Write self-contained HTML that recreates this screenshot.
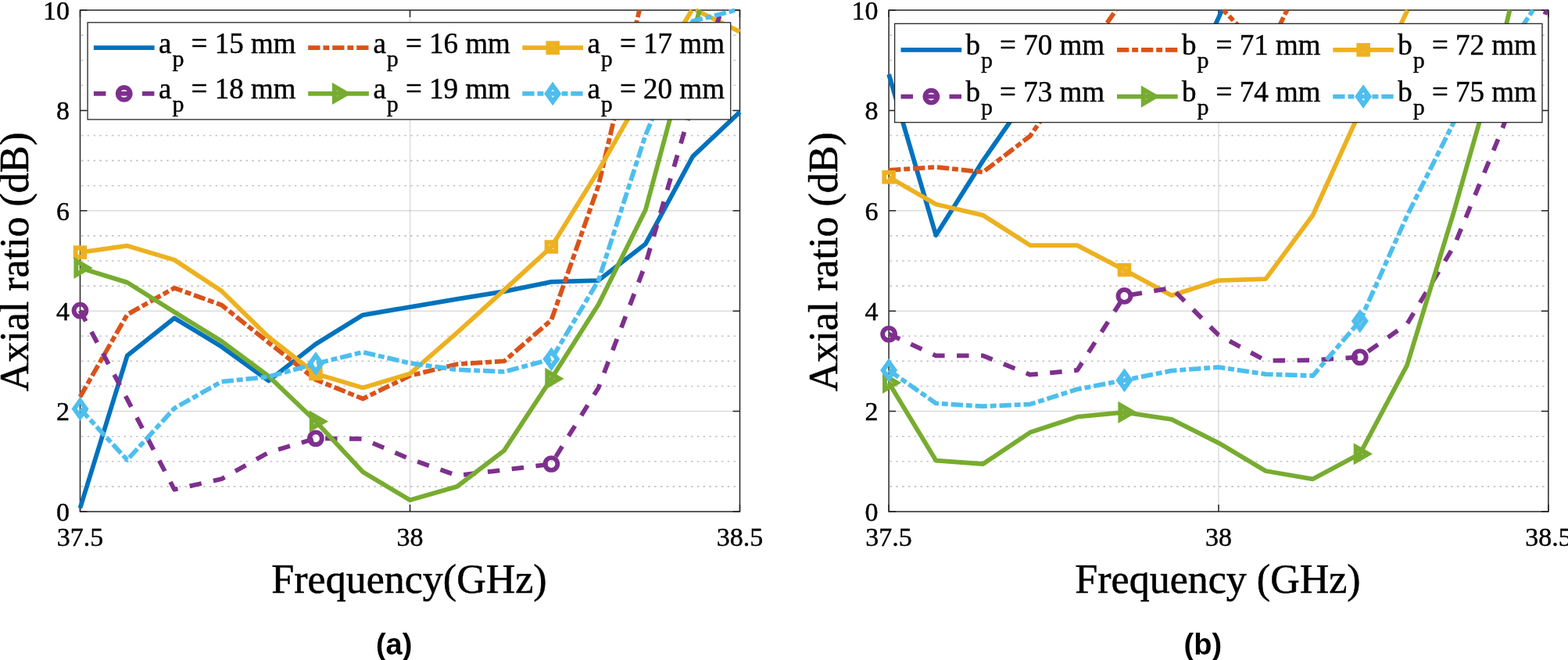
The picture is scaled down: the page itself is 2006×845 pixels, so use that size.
<!DOCTYPE html>
<html><head><meta charset="utf-8"><title>Axial ratio vs frequency</title>
<style>
html,body{margin:0;padding:0;background:#fff;}
body{width:2006px;height:845px;overflow:hidden;}
svg{display:block;}
.tk{font-family:"Liberation Serif","Times New Roman",serif;font-size:34px;fill:#000;stroke:#000;stroke-width:0.45px;}
.lab{font-family:"Liberation Serif","Times New Roman",serif;font-size:52px;fill:#000;stroke:#000;stroke-width:0.55px;}
.lg{font-family:"Liberation Serif","Times New Roman",serif;font-size:37px;fill:#000;stroke:#000;stroke-width:0.45px;white-space:pre;}
.sb{font-family:"Liberation Serif","Times New Roman",serif;font-size:30px;fill:#000;stroke:#000;stroke-width:0.4px;}
.let{font-family:"Liberation Sans",Arial,sans-serif;font-size:38px;font-weight:bold;fill:#000;}
</style></head>
<body><svg width="2006" height="845" viewBox="0 0 2006 845">
<rect width="2006" height="845" fill="#fff"/>
<line x1="102.5" y1="622.9" x2="946.5" y2="622.9" stroke="#c3c3c3" stroke-width="1.6" stroke-dasharray="2.6 5.2" stroke-dashoffset="6.4"/>
<line x1="102.5" y1="590.8" x2="946.5" y2="590.8" stroke="#c3c3c3" stroke-width="1.6" stroke-dasharray="2.6 5.2" stroke-dashoffset="6.4"/>
<line x1="102.5" y1="558.7" x2="946.5" y2="558.7" stroke="#c3c3c3" stroke-width="1.6" stroke-dasharray="2.6 5.2" stroke-dashoffset="6.4"/>
<line x1="102.5" y1="494.5" x2="946.5" y2="494.5" stroke="#c3c3c3" stroke-width="1.6" stroke-dasharray="2.6 5.2" stroke-dashoffset="6.4"/>
<line x1="102.5" y1="462.4" x2="946.5" y2="462.4" stroke="#c3c3c3" stroke-width="1.6" stroke-dasharray="2.6 5.2" stroke-dashoffset="6.4"/>
<line x1="102.5" y1="430.3" x2="946.5" y2="430.3" stroke="#c3c3c3" stroke-width="1.6" stroke-dasharray="2.6 5.2" stroke-dashoffset="6.4"/>
<line x1="102.5" y1="366.1" x2="946.5" y2="366.1" stroke="#c3c3c3" stroke-width="1.6" stroke-dasharray="2.6 5.2" stroke-dashoffset="6.4"/>
<line x1="102.5" y1="334" x2="946.5" y2="334" stroke="#c3c3c3" stroke-width="1.6" stroke-dasharray="2.6 5.2" stroke-dashoffset="6.4"/>
<line x1="102.5" y1="301.9" x2="946.5" y2="301.9" stroke="#c3c3c3" stroke-width="1.6" stroke-dasharray="2.6 5.2" stroke-dashoffset="6.4"/>
<line x1="102.5" y1="237.7" x2="946.5" y2="237.7" stroke="#c3c3c3" stroke-width="1.6" stroke-dasharray="2.6 5.2" stroke-dashoffset="6.4"/>
<line x1="102.5" y1="205.6" x2="946.5" y2="205.6" stroke="#c3c3c3" stroke-width="1.6" stroke-dasharray="2.6 5.2" stroke-dashoffset="6.4"/>
<line x1="102.5" y1="173.5" x2="946.5" y2="173.5" stroke="#c3c3c3" stroke-width="1.6" stroke-dasharray="2.6 5.2" stroke-dashoffset="6.4"/>
<line x1="102.5" y1="109.3" x2="946.5" y2="109.3" stroke="#c3c3c3" stroke-width="1.6" stroke-dasharray="2.6 5.2" stroke-dashoffset="6.4"/>
<line x1="102.5" y1="77.2" x2="946.5" y2="77.2" stroke="#c3c3c3" stroke-width="1.6" stroke-dasharray="2.6 5.2" stroke-dashoffset="6.4"/>
<line x1="102.5" y1="45.1" x2="946.5" y2="45.1" stroke="#c3c3c3" stroke-width="1.6" stroke-dasharray="2.6 5.2" stroke-dashoffset="6.4"/>
<line x1="102.5" y1="526.6" x2="946.5" y2="526.6" stroke="#262626" stroke-opacity="0.16" stroke-width="1.5"/>
<line x1="102.5" y1="398.2" x2="946.5" y2="398.2" stroke="#262626" stroke-opacity="0.16" stroke-width="1.5"/>
<line x1="102.5" y1="269.8" x2="946.5" y2="269.8" stroke="#262626" stroke-opacity="0.16" stroke-width="1.5"/>
<line x1="102.5" y1="141.4" x2="946.5" y2="141.4" stroke="#262626" stroke-opacity="0.16" stroke-width="1.5"/>
<line x1="524.5" y1="13" x2="524.5" y2="655" stroke="#262626" stroke-opacity="0.16" stroke-width="1.5"/>
<rect x="102.5" y="13" width="844" height="642" fill="none" stroke="#262626" stroke-width="1.5"/>
<path d="M102.5 655H111.5M946.5 655H937.5M102.5 526.6H111.5M946.5 526.6H937.5M102.5 398.2H111.5M946.5 398.2H937.5M102.5 269.8H111.5M946.5 269.8H937.5M102.5 141.4H111.5M946.5 141.4H937.5M102.5 13H111.5M946.5 13H937.5M102.5 655V646M102.5 13V22M524.5 655V646M524.5 13V22M946.5 655V646M946.5 13V22" stroke="#262626" stroke-width="1.5" fill="none"/>
<text x="89" y="666.8" text-anchor="end" class="tk">0</text>
<text x="89" y="538.4" text-anchor="end" class="tk">2</text>
<text x="89" y="410" text-anchor="end" class="tk">4</text>
<text x="89" y="281.6" text-anchor="end" class="tk">6</text>
<text x="89" y="153.2" text-anchor="end" class="tk">8</text>
<text x="89" y="24.8" text-anchor="end" class="tk">10</text>
<text x="102.5" y="698.8" text-anchor="middle" class="tk">37.5</text>
<text x="524.5" y="698.8" text-anchor="middle" class="tk">38</text>
<text x="946.5" y="698.8" text-anchor="middle" class="tk">38.5</text>
<text transform="translate(35.8 335.3) rotate(-90)" text-anchor="middle" class="lab">Axial ratio (dB)</text>
<text x="523.5" y="758.7" text-anchor="middle" class="lab">Frequency(GHz)</text>
<text x="504.2" y="837.6" text-anchor="middle" class="let">(a)</text>
<path d="M102.5 650.51 L162.79 455.34 L223.07 407.19 L283.36 443.78 L343.64 487.44 L403.93 440.57 L464.21 403.34 L524.5 393.06 L584.79 382.79 L645.07 373.16 L705.36 360.96 L765.64 359.04 L825.93 312.17 L886.21 200.46 L946.5 143.33" fill="none" stroke="#0072BD" stroke-width="5.8" stroke-linejoin="round" stroke-linecap="butt"/>
<path d="M102.5 507.98 L162.79 402.69 L223.07 368.67 L283.36 390.5 L343.64 438.65 L403.93 486.15 L464.21 510.55 L524.5 481.02 L584.79 466.25 L645.07 462.4 L705.36 409.76 L765.64 237.7 L818 13" fill="none" stroke="#D95319" stroke-width="5.8" stroke-linejoin="round" stroke-linecap="butt" stroke-dasharray="15.3 3.9 7.9 3.9" stroke-dashoffset="0"/>
<path d="M102.5 323.09 L162.79 314.74 L223.07 332.72 L283.36 372.52 L343.64 431.58 L403.93 478.45 L464.21 496.43 L524.5 478.45 L584.79 425.81 L645.07 371.24 L705.36 316.02 L765.64 218.44 L825.93 112.51 L885.07 13" fill="none" stroke="#EDB120" stroke-width="5.8" stroke-linejoin="round" stroke-linecap="butt"/>
<path d="M890.15 13 L946.5 40.61" fill="none" stroke="#EDB120" stroke-width="5.8" stroke-linejoin="round" stroke-linecap="butt"/>
<rect x="96.7" y="317.29" width="11.6" height="11.6" fill="none" stroke="#EDB120" stroke-width="5.9" stroke-linejoin="miter" stroke-miterlimit="10"/>
<rect x="398.13" y="472.65" width="11.6" height="11.6" fill="none" stroke="#EDB120" stroke-width="5.9" stroke-linejoin="miter" stroke-miterlimit="10"/>
<rect x="699.56" y="310.22" width="11.6" height="11.6" fill="none" stroke="#EDB120" stroke-width="5.9" stroke-linejoin="miter" stroke-miterlimit="10"/>
<path d="M102.5 397.56 L162.79 511.19 L223.07 626.75 L283.36 613.27 L343.64 579.24 L403.93 561.27 L464.21 561.91 L524.5 587.59 L584.79 608.78 L645.07 601.71 L705.36 594.01 L765.64 496.43 L825.93 337.85 L886.21 131.77 L922.78 13" fill="none" stroke="#7E2F8E" stroke-width="5.8" stroke-linejoin="round" stroke-linecap="butt" stroke-dasharray="15.5 15.5" stroke-dashoffset="0"/>
<circle cx="102.5" cy="397.56" r="7.9" fill="none" stroke="#7E2F8E" stroke-width="5.9" stroke-linejoin="miter" stroke-miterlimit="10"/>
<circle cx="403.93" cy="561.27" r="7.9" fill="none" stroke="#7E2F8E" stroke-width="5.9" stroke-linejoin="miter" stroke-miterlimit="10"/>
<circle cx="705.36" cy="594.01" r="7.9" fill="none" stroke="#7E2F8E" stroke-width="5.9" stroke-linejoin="miter" stroke-miterlimit="10"/>
<path d="M102.5 342.99 L162.79 361.61 L223.07 399.48 L283.36 436.72 L343.64 481.66 L403.93 539.44 L464.21 604.28 L524.5 640.23 L584.79 622.9 L645.07 576.68 L705.36 484.87 L765.64 389.85 L825.93 268.52 L886.21 43.82 L895.04 13" fill="none" stroke="#77AC30" stroke-width="5.8" stroke-linejoin="round" stroke-linecap="butt"/>
<path d="M112.8 342.99 L97.35 334.07 L97.35 351.91 Z" fill="none" stroke="#77AC30" stroke-width="5.9" stroke-linejoin="miter" stroke-miterlimit="10"/>
<path d="M414.23 539.44 L398.78 530.52 L398.78 548.36 Z" fill="none" stroke="#77AC30" stroke-width="5.9" stroke-linejoin="miter" stroke-miterlimit="10"/>
<path d="M715.66 484.87 L700.21 475.95 L700.21 493.79 Z" fill="none" stroke="#77AC30" stroke-width="5.9" stroke-linejoin="miter" stroke-miterlimit="10"/>
<path d="M102.5 523.39 L162.79 588.87 L223.07 522.75 L283.36 488.72 L343.64 482.3 L403.93 465.61 L464.21 450.84 L524.5 464.97 L584.79 473.31 L645.07 475.88 L705.36 459.83 L765.64 359.04 L825.93 172.86 L886.21 27.12 L941.48 13" fill="none" stroke="#4DBEEE" stroke-width="5.8" stroke-linejoin="round" stroke-linecap="butt" stroke-dasharray="15.3 3.9 7.9 3.9" stroke-dashoffset="0"/>
<path d="M102.5 513.09 L109.9 523.39 L102.5 533.69 L95.1 523.39 Z" fill="none" stroke="#4DBEEE" stroke-width="5.9" stroke-linejoin="miter" stroke-miterlimit="10"/>
<path d="M403.93 455.31 L411.33 465.61 L403.93 475.91 L396.53 465.61 Z" fill="none" stroke="#4DBEEE" stroke-width="5.9" stroke-linejoin="miter" stroke-miterlimit="10"/>
<path d="M705.36 449.53 L712.76 459.83 L705.36 470.13 L697.96 459.83 Z" fill="none" stroke="#4DBEEE" stroke-width="5.9" stroke-linejoin="miter" stroke-miterlimit="10"/>
<rect x="112.1" y="28.8" width="822.6" height="124.2" fill="#fff" stroke="#262626" stroke-width="1.3"/>
<path d="M119.9 61.2 L197.6 61.2" fill="none" stroke="#0072BD" stroke-width="5.8" stroke-linejoin="round" stroke-linecap="butt"/>
<text x="203.1" y="68.1" class="lg">a</text>
<text x="220.4" y="85.3" class="sb">p</text>
<text x="244.6" y="68.1" class="lg">= 15 mm</text>
<path d="M394.2 61.2 L471.9 61.2" fill="none" stroke="#D95319" stroke-width="5.8" stroke-linejoin="round" stroke-linecap="butt" stroke-dasharray="15.3 3.9 7.9 3.9" stroke-dashoffset="0"/>
<text x="477.4" y="68.1" class="lg">a</text>
<text x="494.7" y="85.3" class="sb">p</text>
<text x="518.9" y="68.1" class="lg">= 16 mm</text>
<path d="M668.3 61.2 L746 61.2" fill="none" stroke="#EDB120" stroke-width="5.8" stroke-linejoin="round" stroke-linecap="butt"/>
<rect x="701.35" y="55.4" width="11.6" height="11.6" fill="none" stroke="#EDB120" stroke-width="5.9" stroke-linejoin="miter" stroke-miterlimit="10"/>
<text x="751.5" y="68.1" class="lg">a</text>
<text x="768.8" y="85.3" class="sb">p</text>
<text x="793" y="68.1" class="lg">= 17 mm</text>
<path d="M119.9 119.9 L197.6 119.9" fill="none" stroke="#7E2F8E" stroke-width="5.8" stroke-linejoin="round" stroke-linecap="butt" stroke-dasharray="15.5 15.5" stroke-dashoffset="0"/>
<circle cx="158.75" cy="119.9" r="7.9" fill="none" stroke="#7E2F8E" stroke-width="5.9" stroke-linejoin="miter" stroke-miterlimit="10"/>
<text x="203.1" y="126.1" class="lg">a</text>
<text x="220.4" y="143.3" class="sb">p</text>
<text x="244.6" y="126.1" class="lg">= 18 mm</text>
<path d="M394.2 119.9 L471.9 119.9" fill="none" stroke="#77AC30" stroke-width="5.8" stroke-linejoin="round" stroke-linecap="butt"/>
<path d="M443.35 119.9 L427.9 110.98 L427.9 128.82 Z" fill="none" stroke="#77AC30" stroke-width="5.9" stroke-linejoin="miter" stroke-miterlimit="10"/>
<text x="477.4" y="126.1" class="lg">a</text>
<text x="494.7" y="143.3" class="sb">p</text>
<text x="518.9" y="126.1" class="lg">= 19 mm</text>
<path d="M668.3 119.9 L746 119.9" fill="none" stroke="#4DBEEE" stroke-width="5.8" stroke-linejoin="round" stroke-linecap="butt" stroke-dasharray="15.3 3.9 7.9 3.9" stroke-dashoffset="0"/>
<path d="M707.15 109.6 L714.55 119.9 L707.15 130.2 L699.75 119.9 Z" fill="none" stroke="#4DBEEE" stroke-width="5.9" stroke-linejoin="miter" stroke-miterlimit="10"/>
<text x="751.5" y="126.1" class="lg">a</text>
<text x="768.8" y="143.3" class="sb">p</text>
<text x="793" y="126.1" class="lg">= 20 mm</text>
<line x1="1137.1" y1="622.9" x2="1980.9" y2="622.9" stroke="#c3c3c3" stroke-width="1.6" stroke-dasharray="2.6 5.2" stroke-dashoffset="6.4"/>
<line x1="1137.1" y1="590.8" x2="1980.9" y2="590.8" stroke="#c3c3c3" stroke-width="1.6" stroke-dasharray="2.6 5.2" stroke-dashoffset="6.4"/>
<line x1="1137.1" y1="558.7" x2="1980.9" y2="558.7" stroke="#c3c3c3" stroke-width="1.6" stroke-dasharray="2.6 5.2" stroke-dashoffset="6.4"/>
<line x1="1137.1" y1="494.5" x2="1980.9" y2="494.5" stroke="#c3c3c3" stroke-width="1.6" stroke-dasharray="2.6 5.2" stroke-dashoffset="6.4"/>
<line x1="1137.1" y1="462.4" x2="1980.9" y2="462.4" stroke="#c3c3c3" stroke-width="1.6" stroke-dasharray="2.6 5.2" stroke-dashoffset="6.4"/>
<line x1="1137.1" y1="430.3" x2="1980.9" y2="430.3" stroke="#c3c3c3" stroke-width="1.6" stroke-dasharray="2.6 5.2" stroke-dashoffset="6.4"/>
<line x1="1137.1" y1="366.1" x2="1980.9" y2="366.1" stroke="#c3c3c3" stroke-width="1.6" stroke-dasharray="2.6 5.2" stroke-dashoffset="6.4"/>
<line x1="1137.1" y1="334" x2="1980.9" y2="334" stroke="#c3c3c3" stroke-width="1.6" stroke-dasharray="2.6 5.2" stroke-dashoffset="6.4"/>
<line x1="1137.1" y1="301.9" x2="1980.9" y2="301.9" stroke="#c3c3c3" stroke-width="1.6" stroke-dasharray="2.6 5.2" stroke-dashoffset="6.4"/>
<line x1="1137.1" y1="237.7" x2="1980.9" y2="237.7" stroke="#c3c3c3" stroke-width="1.6" stroke-dasharray="2.6 5.2" stroke-dashoffset="6.4"/>
<line x1="1137.1" y1="205.6" x2="1980.9" y2="205.6" stroke="#c3c3c3" stroke-width="1.6" stroke-dasharray="2.6 5.2" stroke-dashoffset="6.4"/>
<line x1="1137.1" y1="173.5" x2="1980.9" y2="173.5" stroke="#c3c3c3" stroke-width="1.6" stroke-dasharray="2.6 5.2" stroke-dashoffset="6.4"/>
<line x1="1137.1" y1="109.3" x2="1980.9" y2="109.3" stroke="#c3c3c3" stroke-width="1.6" stroke-dasharray="2.6 5.2" stroke-dashoffset="6.4"/>
<line x1="1137.1" y1="77.2" x2="1980.9" y2="77.2" stroke="#c3c3c3" stroke-width="1.6" stroke-dasharray="2.6 5.2" stroke-dashoffset="6.4"/>
<line x1="1137.1" y1="45.1" x2="1980.9" y2="45.1" stroke="#c3c3c3" stroke-width="1.6" stroke-dasharray="2.6 5.2" stroke-dashoffset="6.4"/>
<line x1="1137.1" y1="526.6" x2="1980.9" y2="526.6" stroke="#262626" stroke-opacity="0.16" stroke-width="1.5"/>
<line x1="1137.1" y1="398.2" x2="1980.9" y2="398.2" stroke="#262626" stroke-opacity="0.16" stroke-width="1.5"/>
<line x1="1137.1" y1="269.8" x2="1980.9" y2="269.8" stroke="#262626" stroke-opacity="0.16" stroke-width="1.5"/>
<line x1="1137.1" y1="141.4" x2="1980.9" y2="141.4" stroke="#262626" stroke-opacity="0.16" stroke-width="1.5"/>
<line x1="1559" y1="13" x2="1559" y2="655" stroke="#262626" stroke-opacity="0.16" stroke-width="1.5"/>
<rect x="1137.1" y="13" width="843.8" height="642" fill="none" stroke="#262626" stroke-width="1.5"/>
<path d="M1137.1 655H1146.1M1980.9 655H1971.9M1137.1 526.6H1146.1M1980.9 526.6H1971.9M1137.1 398.2H1146.1M1980.9 398.2H1971.9M1137.1 269.8H1146.1M1980.9 269.8H1971.9M1137.1 141.4H1146.1M1980.9 141.4H1971.9M1137.1 13H1146.1M1980.9 13H1971.9M1137.1 655V646M1137.1 13V22M1559 655V646M1559 13V22M1980.9 655V646M1980.9 13V22" stroke="#262626" stroke-width="1.5" fill="none"/>
<text x="1123.6" y="666.8" text-anchor="end" class="tk">0</text>
<text x="1123.6" y="538.4" text-anchor="end" class="tk">2</text>
<text x="1123.6" y="410" text-anchor="end" class="tk">4</text>
<text x="1123.6" y="281.6" text-anchor="end" class="tk">6</text>
<text x="1123.6" y="153.2" text-anchor="end" class="tk">8</text>
<text x="1123.6" y="24.8" text-anchor="end" class="tk">10</text>
<text x="1137.1" y="698.8" text-anchor="middle" class="tk">37.5</text>
<text x="1559" y="698.8" text-anchor="middle" class="tk">38</text>
<text x="1980.9" y="698.8" text-anchor="middle" class="tk">38.5</text>
<text transform="translate(1070.8 335.3) rotate(-90)" text-anchor="middle" class="lab">Axial ratio (dB)</text>
<text x="1558" y="759.2" text-anchor="middle" class="lab">Frequency (GHz)</text>
<text x="1538.8" y="837.6" text-anchor="middle" class="let">(b)</text>
<path d="M1137.1 95.18 L1197.37 301.26 L1257.64 205.6 L1317.91 118.93 L1378.19 128.56 L1438.46 141.4 L1498.73 151.03 L1559 22.63 L1563.2 13" fill="none" stroke="#0072BD" stroke-width="5.8" stroke-linejoin="round" stroke-linecap="butt"/>
<path d="M1137.1 217.8 L1197.37 213.95 L1257.64 220.37 L1317.91 174.14 L1378.19 85.55 L1427.54 13" fill="none" stroke="#D95319" stroke-width="5.8" stroke-linejoin="round" stroke-linecap="butt" stroke-dasharray="15.3 3.9 7.9 3.9" stroke-dashoffset="0"/>
<path d="M1565.15 13 L1619.27 69.5 L1646.47 13" fill="none" stroke="#D95319" stroke-width="5.8" stroke-linejoin="round" stroke-linecap="butt" stroke-dasharray="15.3 3.9 7.9 3.9" stroke-dashoffset="628.74"/>
<path d="M1137.1 226.79 L1197.37 261.45 L1257.64 275.58 L1317.91 314.1 L1378.19 314.1 L1438.46 345.56 L1498.73 378.3 L1559 359.04 L1619.27 357.11 L1679.54 275.58 L1739.81 142.68 L1800.09 14.28 L1800.68 13" fill="none" stroke="#EDB120" stroke-width="5.8" stroke-linejoin="round" stroke-linecap="butt"/>
<rect x="1131.3" y="220.99" width="11.6" height="11.6" fill="none" stroke="#EDB120" stroke-width="5.9" stroke-linejoin="miter" stroke-miterlimit="10"/>
<rect x="1432.66" y="339.76" width="11.6" height="11.6" fill="none" stroke="#EDB120" stroke-width="5.9" stroke-linejoin="miter" stroke-miterlimit="10"/>
<rect x="1734.01" y="136.88" width="11.6" height="11.6" fill="none" stroke="#EDB120" stroke-width="5.9" stroke-linejoin="miter" stroke-miterlimit="10"/>
<path d="M1137.1 427.73 L1197.37 455.34 L1257.64 455.34 L1317.91 479.73 L1378.19 473.96 L1438.46 378.94 L1498.73 368.67 L1559 429.02 L1619.27 461.76 L1679.54 461.12 L1739.81 457.26 L1800.09 414.89 L1860.36 314.74 L1920.63 168.36 L1978.51 13" fill="none" stroke="#7E2F8E" stroke-width="5.8" stroke-linejoin="round" stroke-linecap="butt" stroke-dasharray="15.5 15.5" stroke-dashoffset="0"/>
<circle cx="1137.1" cy="427.73" r="7.9" fill="none" stroke="#7E2F8E" stroke-width="5.9" stroke-linejoin="miter" stroke-miterlimit="10"/>
<circle cx="1438.46" cy="378.94" r="7.9" fill="none" stroke="#7E2F8E" stroke-width="5.9" stroke-linejoin="miter" stroke-miterlimit="10"/>
<circle cx="1739.81" cy="457.26" r="7.9" fill="none" stroke="#7E2F8E" stroke-width="5.9" stroke-linejoin="miter" stroke-miterlimit="10"/>
<path d="M1137.1 490.01 L1197.37 589.52 L1257.64 594.01 L1317.91 553.56 L1378.19 533.66 L1438.46 527.88 L1498.73 536.87 L1559 567.05 L1619.27 603 L1679.54 613.27 L1739.81 581.17 L1800.09 467.54 L1860.36 269.8 L1920.63 57.94 L1931.45 13" fill="none" stroke="#77AC30" stroke-width="5.8" stroke-linejoin="round" stroke-linecap="butt"/>
<path d="M1147.4 490.01 L1131.95 481.09 L1131.95 498.93 Z" fill="none" stroke="#77AC30" stroke-width="5.9" stroke-linejoin="miter" stroke-miterlimit="10"/>
<path d="M1448.76 527.88 L1433.31 518.96 L1433.31 536.8 Z" fill="none" stroke="#77AC30" stroke-width="5.9" stroke-linejoin="miter" stroke-miterlimit="10"/>
<path d="M1750.11 581.17 L1734.66 572.25 L1734.66 590.09 Z" fill="none" stroke="#77AC30" stroke-width="5.9" stroke-linejoin="miter" stroke-miterlimit="10"/>
<path d="M1137.1 473.96 L1197.37 516.33 L1257.64 520.18 L1317.91 517.61 L1378.19 498.35 L1438.46 486.8 L1498.73 474.6 L1559 470.1 L1619.27 479.09 L1679.54 481.02 L1739.81 411.04 L1800.09 276.22 L1860.36 155.52 L1920.63 73.99 L1961.24 13" fill="none" stroke="#4DBEEE" stroke-width="5.8" stroke-linejoin="round" stroke-linecap="butt" stroke-dasharray="15.3 3.9 7.9 3.9" stroke-dashoffset="0"/>
<path d="M1137.1 463.66 L1144.5 473.96 L1137.1 484.26 L1129.7 473.96 Z" fill="none" stroke="#4DBEEE" stroke-width="5.9" stroke-linejoin="miter" stroke-miterlimit="10"/>
<path d="M1438.46 476.5 L1445.86 486.8 L1438.46 497.1 L1431.06 486.8 Z" fill="none" stroke="#4DBEEE" stroke-width="5.9" stroke-linejoin="miter" stroke-miterlimit="10"/>
<path d="M1739.81 400.74 L1747.21 411.04 L1739.81 421.34 L1732.41 411.04 Z" fill="none" stroke="#4DBEEE" stroke-width="5.9" stroke-linejoin="miter" stroke-miterlimit="10"/>
<rect x="1144.6" y="30.3" width="828.4" height="126.4" fill="#fff" stroke="#262626" stroke-width="1.3"/>
<path d="M1152.5 63.9 L1230.2 63.9" fill="none" stroke="#0072BD" stroke-width="5.8" stroke-linejoin="round" stroke-linecap="butt"/>
<text x="1235.5" y="70" class="lg">b</text>
<text x="1254.9" y="87.2" class="sb">p</text>
<text x="1279.1" y="70" class="lg">= 70 mm</text>
<path d="M1429 63.9 L1506.7 63.9" fill="none" stroke="#D95319" stroke-width="5.8" stroke-linejoin="round" stroke-linecap="butt" stroke-dasharray="15.3 3.9 7.9 3.9" stroke-dashoffset="0"/>
<text x="1512" y="70" class="lg">b</text>
<text x="1531.4" y="87.2" class="sb">p</text>
<text x="1555.6" y="70" class="lg">= 71 mm</text>
<path d="M1705.3 63.9 L1783 63.9" fill="none" stroke="#EDB120" stroke-width="5.8" stroke-linejoin="round" stroke-linecap="butt"/>
<rect x="1738.35" y="58.1" width="11.6" height="11.6" fill="none" stroke="#EDB120" stroke-width="5.9" stroke-linejoin="miter" stroke-miterlimit="10"/>
<text x="1788.3" y="70" class="lg">b</text>
<text x="1807.7" y="87.2" class="sb">p</text>
<text x="1831.9" y="70" class="lg">= 72 mm</text>
<path d="M1152.5 123.6 L1230.2 123.6" fill="none" stroke="#7E2F8E" stroke-width="5.8" stroke-linejoin="round" stroke-linecap="butt" stroke-dasharray="15.5 15.5" stroke-dashoffset="0"/>
<circle cx="1191.35" cy="123.6" r="7.9" fill="none" stroke="#7E2F8E" stroke-width="5.9" stroke-linejoin="miter" stroke-miterlimit="10"/>
<text x="1235.5" y="130" class="lg">b</text>
<text x="1254.9" y="147.2" class="sb">p</text>
<text x="1279.1" y="130" class="lg">= 73 mm</text>
<path d="M1429 123.6 L1506.7 123.6" fill="none" stroke="#77AC30" stroke-width="5.8" stroke-linejoin="round" stroke-linecap="butt"/>
<path d="M1478.15 123.6 L1462.7 114.68 L1462.7 132.52 Z" fill="none" stroke="#77AC30" stroke-width="5.9" stroke-linejoin="miter" stroke-miterlimit="10"/>
<text x="1512" y="130" class="lg">b</text>
<text x="1531.4" y="147.2" class="sb">p</text>
<text x="1555.6" y="130" class="lg">= 74 mm</text>
<path d="M1705.3 123.6 L1783 123.6" fill="none" stroke="#4DBEEE" stroke-width="5.8" stroke-linejoin="round" stroke-linecap="butt" stroke-dasharray="15.3 3.9 7.9 3.9" stroke-dashoffset="0"/>
<path d="M1744.15 113.3 L1751.55 123.6 L1744.15 133.9 L1736.75 123.6 Z" fill="none" stroke="#4DBEEE" stroke-width="5.9" stroke-linejoin="miter" stroke-miterlimit="10"/>
<text x="1788.3" y="130" class="lg">b</text>
<text x="1807.7" y="147.2" class="sb">p</text>
<text x="1831.9" y="130" class="lg">= 75 mm</text>
</svg></body></html>
